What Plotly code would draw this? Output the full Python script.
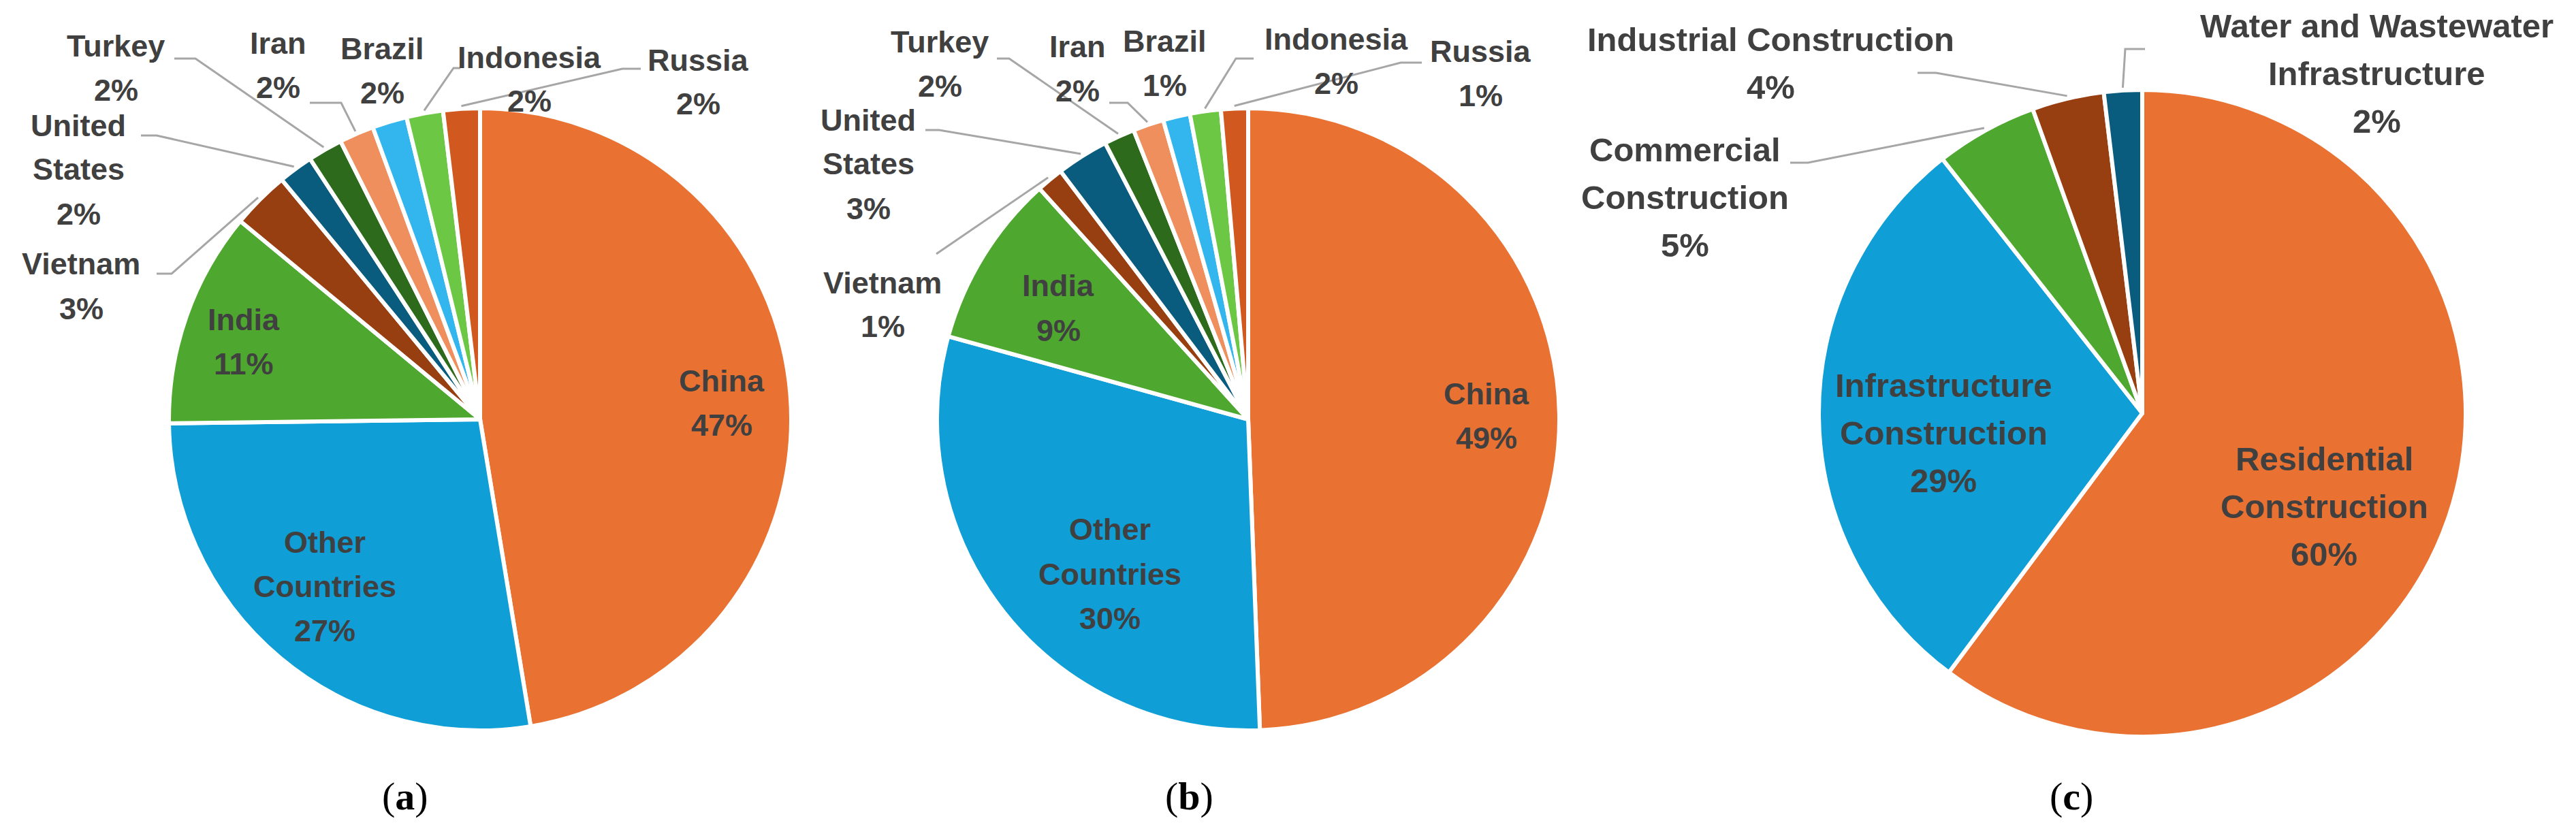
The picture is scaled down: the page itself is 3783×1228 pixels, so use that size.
import math
import plotly.graph_objects as go

W, H = 3783, 1228

# ---------------- data ----------------
country_labels = ["China", "Other Countries", "India", "Vietnam", "United States",
                  "Turkey", "Iran", "Brazil", "Indonesia", "Russia"]
a_values = [47.4, 27.4, 11.2, 3.0, 1.8, 1.8, 1.8, 1.8, 1.9, 1.9]
b_values = [49.4, 29.9, 9.0, 1.4, 2.7, 1.6, 1.6, 1.4, 1.6, 1.4]

sector_labels = ["Residential Construction", "Infrastructure Construction",
                 "Commercial Construction", "Industrial Construction",
                 "Water and Wastewater Infrastructure"]
c_values = [60.2, 29.2, 5.1, 3.6, 1.9]

panel_tags = ["a", "b", "c"]

# ---------------- styles ----------------
country_colors = ["#E97132", "#0F9ED5", "#4EA72E", "#983F12", "#0A5C7F",
                  "#2D6A1C", "#EF8F5E", "#33B6EE", "#6CC744", "#D1581F"]
sector_colors = ["#E97132", "#0F9ED5", "#4EA72E", "#983F12", "#0A5C7F"]

TEXT_COLOR = "#404040"
LEADER_COLOR = "#A6A6A6"
FONT = "Liberation Sans, Arial, sans-serif"

wrap = {
    "Other Countries": ["Other", "Countries"],
    "United States": ["United", "States"],
    "Residential Construction": ["Residential", "Construction"],
    "Infrastructure Construction": ["Infrastructure", "Construction"],
    "Commercial Construction": ["Commercial", "Construction"],
    "Water and Wastewater Infrastructure": ["Water and Wastewater", "Infrastructure"],
}

# pie geometry (pixels): centre x, centre y, radius
pies = [
    dict(cx=705, cy=616, r=457, labels=country_labels, values=a_values,
         colors=country_colors, fsize=45, lsp=65, tag=(595, 1169)),
    dict(cx=1833, cy=616, r=457, labels=country_labels, values=b_values,
         colors=country_colors, fsize=45, lsp=65, tag=(1746, 1169)),
    dict(cx=3146, cy=607, r=475, labels=sector_labels, values=c_values,
         colors=sector_colors, fsize=49, lsp=70, tag=(3042, 1169)),
]

# label placement (pixels): first-line centre, optional leader (start, elbow)
placements = [
    {
        "China": ((1060, 559), None),
        "Other Countries": ((477, 796), None),
        "India": ((358, 469), None),
        "Vietnam": ((119, 388), ((230, 402), (252, 402))),
        "United States": ((115, 184), ((207, 199), (230, 199))),
        "Turkey": ((170, 67), ((256, 86), (287, 86))),
        "Iran": ((408, 63), ((455, 151), (501, 151))),
        "Brazil": ((561, 71), None),
        "Indonesia": ((777, 84), ((676, 100), (666, 100))),
        "Russia": ((1025, 88), ((941, 101), (914, 101))),
    },
    {
        "China": ((2183, 578), None),
        "Other Countries": ((1630, 778), None),
        "India": ((1554, 420), None),
        "Vietnam": ((1296, 415), ((1375, 373), (1375, 373))),
        "United States": ((1275, 176), ((1359, 191), (1379, 191))),
        "Turkey": ((1380, 61), ((1464, 86), (1482, 86))),
        "Iran": ((1582, 68), ((1629, 151), (1656, 151))),
        "Brazil": ((1710, 60), None),
        "Indonesia": ((1962, 57), ((1841, 86), (1815, 86))),
        "Russia": ((2174, 75), ((2088, 92), (2057, 92))),
    },
    {
        "Residential Construction": ((3413, 674), None),
        "Infrastructure Construction": ((2854, 566), None),
        "Commercial Construction": ((2474, 220), ((2629, 239), (2655, 239))),
        "Industrial Construction": ((2600, 58), ((2816, 107), (2843, 107))),
        "Water and Wastewater Infrastructure": ((3490, 38), ((3150, 72), (3121, 72))),
    },
]


def px(x):
    return x / W


def py(y):
    return 1 - y / H


fig = go.Figure()
annotations = []
shapes = []

for pie, place, tag in zip(pies, placements, panel_tags):
    cx, cy, r = pie["cx"], pie["cy"], pie["r"]
    fig.add_trace(go.Pie(
        labels=pie["labels"], values=pie["values"],
        marker=dict(colors=pie["colors"], line=dict(color="white", width=6)),
        sort=False, direction="clockwise", rotation=0,
        textinfo="none", hoverinfo="label+percent", showlegend=False,
        domain=dict(x=[px(cx - r), px(cx + r)], y=[py(cy + r), py(cy - r)]),
    ))
    total = sum(pie["values"])
    cum = 0.0
    for lab, val in zip(pie["labels"], pie["values"]):
        mid = (cum + val / 2) / total * 2 * math.pi
        cum += val
        (lx, ly), leader = place[lab]
        lines = wrap.get(lab, [lab]) + [f"{round(val / total * 100)}%"]
        for i, line in enumerate(lines):
            annotations.append(dict(
                x=px(lx), y=py(ly + i * pie["lsp"]), xref="paper", yref="paper",
                text=f"<b>{line}</b>", showarrow=False,
                xanchor="center", yanchor="middle",
                font=dict(family=FONT, size=pie["fsize"], color=TEXT_COLOR),
            ))
        if leader is not None:
            tx = cx + (r + 4) * math.sin(mid)
            ty = cy - (r + 4) * math.cos(mid)
            (sx, sy), (ex, ey) = leader
            shapes.append(dict(
                type="path", xref="paper", yref="paper",
                path=f"M {px(sx)},{py(sy)} L {px(ex)},{py(ey)} L {px(tx)},{py(ty)}",
                line=dict(color=LEADER_COLOR, width=3),
            ))
    annotations.append(dict(
        x=px(tag and pie["tag"][0]), y=py(pie["tag"][1]), xref="paper", yref="paper",
        text=f"(<b>{tag}</b>)", showarrow=False, xanchor="center", yanchor="middle",
        font=dict(family="Liberation Serif, Times New Roman, serif", size=58, color="#000000"),
    ))

fig.update_layout(
    width=W, height=H,
    margin=dict(l=0, r=0, t=0, b=0),
    paper_bgcolor="white", plot_bgcolor="white",
    annotations=annotations, shapes=shapes,
)

fig.write_html("out.html", config={"displayModeBar": False},
               post_script="document.body.style.margin='0';")
